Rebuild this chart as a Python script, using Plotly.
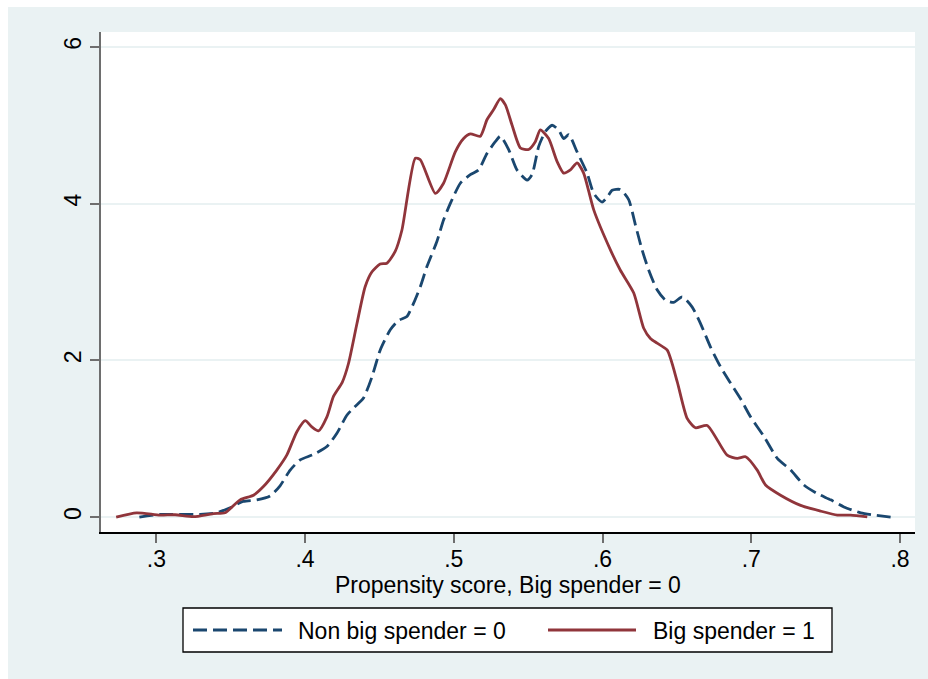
import plotly.graph_objects as go

# Non big spender = 0 (navy dashed)
x_non = [0.2886, 0.3025, 0.3137, 0.3294, 0.3406, 0.3496, 0.3585, 0.3676, 0.3765, 0.3832,
         0.3900, 0.3967, 0.4057, 0.4147, 0.4214, 0.4281, 0.4330, 0.4393, 0.4450, 0.4505,
         0.4573, 0.4629, 0.4685, 0.4730, 0.4775, 0.4820, 0.4887, 0.4931, 0.4976, 0.5044,
         0.5111, 0.5167, 0.5223, 0.5279, 0.5313, 0.5369, 0.5425, 0.5493, 0.5526, 0.5571,
         0.5616, 0.5661, 0.5705, 0.5739, 0.5773, 0.5829, 0.5896, 0.5941, 0.5997, 0.6031,
         0.6065, 0.6120, 0.6176, 0.6221, 0.6266, 0.6311, 0.6367, 0.6423, 0.6479, 0.6536,
         0.6603, 0.6659, 0.6726, 0.6793, 0.6861, 0.6928, 0.6995, 0.7085, 0.7175, 0.7265,
         0.7354, 0.7444, 0.7534, 0.7623, 0.7736, 0.7825, 0.7937]
y_non = [0.00, 0.035, 0.035, 0.035, 0.055, 0.12, 0.20, 0.22, 0.27, 0.40,
         0.60, 0.73, 0.80, 0.90, 1.07, 1.30, 1.40, 1.52, 1.79, 2.13,
         2.39, 2.51, 2.56, 2.73, 2.94, 3.20, 3.52, 3.79, 4.00, 4.26,
         4.37, 4.43, 4.64, 4.79, 4.86, 4.69, 4.43, 4.30, 4.37, 4.73,
         4.92, 5.00, 4.94, 4.83, 4.88, 4.66, 4.39, 4.13, 4.02, 4.08,
         4.17, 4.18, 4.05, 3.73, 3.41, 3.15, 2.90, 2.77, 2.74, 2.81,
         2.68, 2.47, 2.17, 1.92, 1.71, 1.51, 1.28, 1.03, 0.75, 0.60,
         0.41, 0.30, 0.22, 0.13, 0.055, 0.026, 0.00]

# Big spender = 1 (maroon solid)
x_big = [0.2730, 0.2868, 0.3025, 0.3126, 0.3250, 0.3384, 0.3462, 0.3563, 0.3653, 0.3720,
         0.3810, 0.3877, 0.3945, 0.4001, 0.4046, 0.4090, 0.4147, 0.4191, 0.4250, 0.4292,
         0.4349, 0.4404, 0.4450, 0.4505, 0.4550, 0.4606, 0.4651, 0.4741, 0.4775, 0.4876,
         0.4931, 0.5010, 0.5066, 0.5111, 0.5178, 0.5223, 0.5268, 0.5313, 0.5347, 0.5392,
         0.5448, 0.5503, 0.5548, 0.5582, 0.5638, 0.5694, 0.5739, 0.5784, 0.5829, 0.5873,
         0.5941, 0.6053, 0.6120, 0.6210, 0.6277, 0.6322, 0.6367, 0.6435, 0.6502, 0.6569,
         0.6625, 0.6704, 0.6838, 0.6906, 0.6962, 0.7040, 0.7096, 0.7197, 0.7332, 0.7466,
         0.7579, 0.7668, 0.7780]
y_big = [0.00, 0.055, 0.025, 0.03, 0.005, 0.045, 0.055, 0.22, 0.28, 0.39,
         0.60, 0.79, 1.09, 1.23, 1.15, 1.10, 1.28, 1.54, 1.72, 1.96,
         2.47, 2.94, 3.13, 3.23, 3.24, 3.39, 3.66, 4.58, 4.56, 4.13,
         4.26, 4.66, 4.83, 4.89, 4.86, 5.07, 5.20, 5.34, 5.26, 5.00,
         4.71, 4.69, 4.79, 4.94, 4.83, 4.54, 4.39, 4.43, 4.52, 4.39,
         3.92, 3.41, 3.15, 2.86, 2.41, 2.28, 2.22, 2.13, 1.73, 1.26,
         1.14, 1.17, 0.79, 0.75, 0.77, 0.60, 0.41, 0.28, 0.15, 0.077,
         0.026, 0.026, 0.004]

x_ticks = [0.3, 0.4, 0.5, 0.6, 0.7, 0.8]
x_tick_labels = [".3", ".4", ".5", ".6", ".7", ".8"]
y_ticks = [0, 2, 4, 6]
y_tick_labels = ["0", "2", "4", "6"]
series_names = ["Non big spender = 0", "Big spender = 1"]
x_title = "Propensity score, Big spender = 0"

NAVY = "#1A476F"
MAROON = "#90353B"
BG = "#EAF2F3"
FONT = "Liberation Sans, Arial, sans-serif"
FS = 23
DASH = "14px,6px"

fig = go.Figure()
fig.add_trace(go.Scatter(x=x_non, y=y_non, mode="lines", name=series_names[0],
                         line=dict(color=NAVY, width=2.8, dash=DASH, shape="spline", smoothing=0.6)))
fig.add_trace(go.Scatter(x=x_big, y=y_big, mode="lines", name=series_names[1],
                         line=dict(color=MAROON, width=2.8, shape="spline", smoothing=0.6)))

W, H = 928, 679
L, R, T, B = 101, 13, 32, 147
pw, ph = W - L - R, H - T - B


def px(xpix):
    return (xpix - L) / pw


def py(ypix):
    return (H - B - ypix) / ph


# white strips at top/left edge of the image
fig.add_shape(type="rect", xref="paper", yref="paper", x0=px(0) - 0.01, x1=px(W) + 0.01,
              y0=py(7), y1=py(0) + 0.01, fillcolor="white", line_width=0, layer="below")
fig.add_shape(type="rect", xref="paper", yref="paper", x0=px(0) - 0.01, x1=px(8),
              y0=py(H) - 0.01, y1=py(0) + 0.01, fillcolor="white", line_width=0, layer="below")

# x-axis title
fig.add_annotation(xref="paper", yref="paper", x=0.5, y=py(585), xanchor="center", yanchor="middle",
                   text=x_title, showarrow=False, font=dict(size=FS))

# legend box (manual, Stata-style)
fig.add_shape(type="rect", xref="paper", yref="paper", x0=px(183), x1=px(832),
              y0=py(652), y1=py(608), fillcolor="white", line=dict(color="black", width=1.3))
fig.add_shape(type="line", xref="paper", yref="paper", x0=px(193), x1=px(282),
              y0=py(630), y1=py(630), line=dict(color=NAVY, width=2.8, dash=DASH))
fig.add_shape(type="line", xref="paper", yref="paper", x0=px(548), x1=px(636),
              y0=py(630), y1=py(630), line=dict(color=MAROON, width=2.8))
fig.add_annotation(xref="paper", yref="paper", x=px(296), y=py(631), xanchor="left", yanchor="middle",
                   text=series_names[0], showarrow=False, font=dict(size=FS))
fig.add_annotation(xref="paper", yref="paper", x=px(651), y=py(631), xanchor="left", yanchor="middle",
                   text=series_names[1], showarrow=False, font=dict(size=FS))

fig.update_layout(
    width=W, height=H,
    margin=dict(l=L, r=R, t=T, b=B),
    paper_bgcolor=BG,
    plot_bgcolor="white",
    font=dict(family=FONT, size=FS, color="black"),
    showlegend=False,
)
fig.update_xaxes(range=[0.2628, 0.8101], tickvals=x_ticks, ticktext=x_tick_labels,
                 showgrid=False, zeroline=False, showline=True, linecolor="black", linewidth=1.5,
                 ticks="outside", ticklen=9, tickwidth=1.5, tickcolor="#6E6E6E",
                 tickfont=dict(size=FS), ticklabelstandoff=-3)
fig.update_yaxes(range=[-0.19, 6.19], tickvals=y_ticks, ticktext=y_tick_labels,
                 showgrid=True, gridcolor=BG, gridwidth=1.5, zeroline=False,
                 showline=True, linecolor="#6E6E6E", linewidth=1.5,
                 ticks="outside", ticklen=9, tickwidth=1.5, tickcolor="#6E6E6E",
                 tickangle=-90, tickfont=dict(size=FS))

fig.write_html("out.html")
